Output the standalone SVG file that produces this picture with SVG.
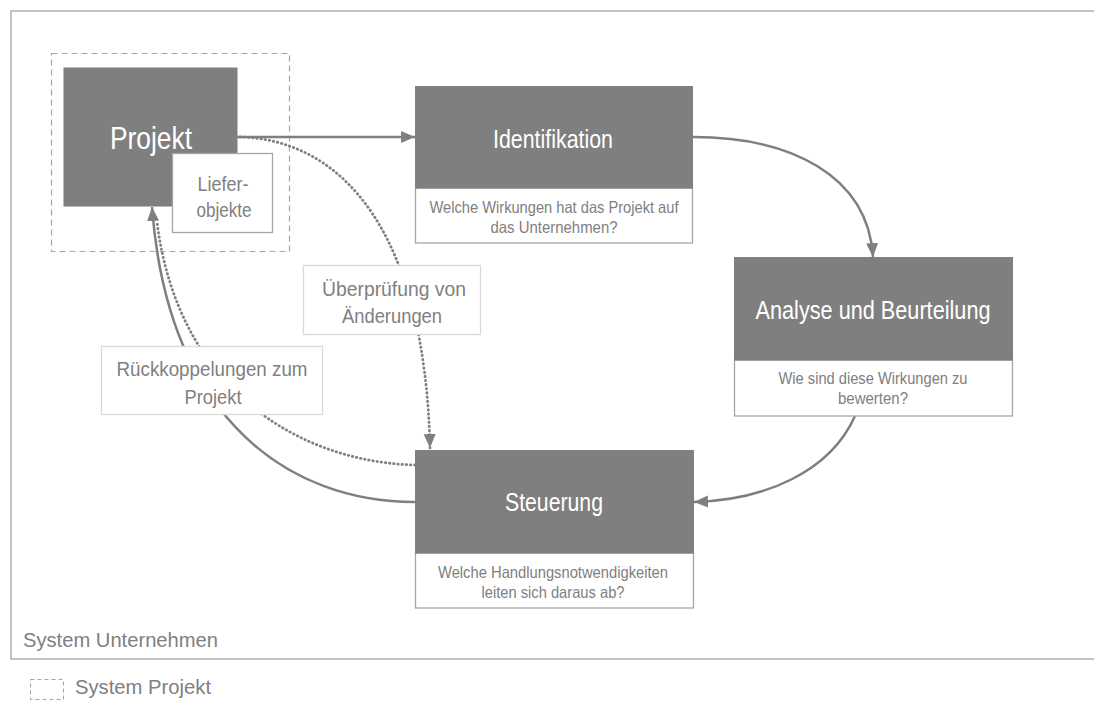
<svg xmlns="http://www.w3.org/2000/svg" width="1094" height="705" viewBox="0 0 1094 705">
<style>
.dark{fill:#7f7f7f;stroke:#7f7f7f;stroke-width:1}
.wbox{fill:#ffffff;stroke:#a6a6a6;stroke-width:1.3}
.lbox{fill:#ffffff;stroke:#d9d9d9;stroke-width:1.3}
.t{font-family:"Liberation Sans",Arial,sans-serif;text-anchor:middle}
.tw{fill:#ffffff}
.tg{fill:#808080}
.c{fill:none;stroke:#7f7f7f;stroke-width:2.5}
.dot{fill:none;stroke:#7f7f7f;stroke-width:2.8;stroke-linecap:round;stroke-dasharray:0.4 3.8}
</style>
<defs>
<marker id="ah" markerUnits="userSpaceOnUse" markerWidth="16" markerHeight="14" refX="14" refY="6" orient="auto">
<path d="M0,0 L14,6 L0,12 Z" fill="#7f7f7f"/>
</marker>
</defs>
<rect x="11" y="11" width="1100" height="648" fill="none" stroke="#a6a6a6" stroke-width="1.3"/>
<text class="t tg" x="23" y="647" font-size="20" style="text-anchor:start" textLength="195" lengthAdjust="spacingAndGlyphs">System Unternehmen</text>
<g id="legend">
<rect x="30.5" y="679.5" width="33" height="20" fill="none" stroke="#a6a6a6" stroke-width="1" stroke-dasharray="4 3"/>
<text class="t tg" x="75" y="694" font-size="20" style="text-anchor:start" textLength="136" lengthAdjust="spacingAndGlyphs">System Projekt</text>
</g>
<g id="system-projekt">
<rect x="51.5" y="53.5" width="238" height="198" fill="none" stroke="#a6a6a6" stroke-width="1.2" stroke-dasharray="6 4"/>
</g>
<g id="connectors">
<path class="c" d="M237,137 L415,137" marker-end="url(#ah)"/>
<path class="c" d="M693,137 C790,137 868,175 873,257" marker-end="url(#ah)"/>
<path class="c" d="M855,416 C830,472 765,500 694,502" marker-end="url(#ah)"/>
<path class="c" d="M415,502 C290,502 168,420 152,207" marker-end="url(#ah)"/>
<path class="dot" d="M415,465 C300,462 178,390 157,222"/>
<path class="dot" d="M240,137 C345,140 425,235 430,448" marker-end="url(#ah)"/>
</g>
<g id="projekt">
<rect class="dark" x="64" y="68" width="173" height="138"/>
<text class="t tw" x="151" y="149" font-size="32" textLength="82" lengthAdjust="spacingAndGlyphs">Projekt</text>
</g>
<g id="lieferobjekte">
<rect class="wbox" x="172.5" y="153.5" width="100" height="79"/>
<text class="t tg" x="223" y="191" font-size="21" textLength="51" lengthAdjust="spacingAndGlyphs">Liefer-</text>
<text class="t tg" x="224" y="217" font-size="21" textLength="55" lengthAdjust="spacingAndGlyphs">objekte</text>
</g>
<g id="identifikation">
<rect class="wbox" x="415.5" y="188" width="277" height="55"/>
<rect class="dark" x="415.5" y="86.5" width="277" height="101.5"/>
<text class="t tw" x="553" y="148" font-size="25" textLength="120" lengthAdjust="spacingAndGlyphs">Identifikation</text>
<text class="t tg" x="554" y="213" font-size="16.5" textLength="249" lengthAdjust="spacingAndGlyphs">Welche Wirkungen hat das Projekt auf</text>
<text class="t tg" x="554" y="233" font-size="16.5" textLength="127" lengthAdjust="spacingAndGlyphs">das Unternehmen?</text>
</g>
<g id="analyse">
<rect class="wbox" x="734.5" y="360" width="278" height="56"/>
<rect class="dark" x="734.5" y="257.5" width="278" height="102.5"/>
<text class="t tw" x="873" y="319" font-size="25" textLength="235" lengthAdjust="spacingAndGlyphs">Analyse und Beurteilung</text>
<text class="t tg" x="873" y="384" font-size="16.5" textLength="189" lengthAdjust="spacingAndGlyphs">Wie sind diese Wirkungen zu</text>
<text class="t tg" x="873" y="404" font-size="16.5" textLength="70" lengthAdjust="spacingAndGlyphs">bewerten?</text>
</g>
<g id="steuerung">
<rect class="wbox" x="415.5" y="553" width="278" height="55"/>
<rect class="dark" x="415.5" y="450.5" width="278" height="102.5"/>
<text class="t tw" x="554" y="511" font-size="25" textLength="98" lengthAdjust="spacingAndGlyphs">Steuerung</text>
<text class="t tg" x="553" y="578" font-size="16.5" textLength="230" lengthAdjust="spacingAndGlyphs">Welche Handlungsnotwendigkeiten</text>
<text class="t tg" x="553" y="598" font-size="16.5" textLength="143" lengthAdjust="spacingAndGlyphs">leiten sich daraus ab?</text>
</g>
<g id="label-ueberpruefung">
<rect class="lbox" x="303.5" y="265.5" width="177" height="69"/>
<text class="t tg" x="394" y="296" font-size="21" textLength="144" lengthAdjust="spacingAndGlyphs">Überprüfung  von</text>
<text class="t tg" x="392" y="323" font-size="21" textLength="100" lengthAdjust="spacingAndGlyphs">Änderungen</text>
</g>
<g id="label-rueckkopplung">
<rect class="lbox" x="101.5" y="346.5" width="221" height="68"/>
<text class="t tg" x="212" y="376" font-size="21" textLength="191" lengthAdjust="spacingAndGlyphs">Rückkoppelungen  zum</text>
<text class="t tg" x="213" y="404" font-size="21" textLength="57" lengthAdjust="spacingAndGlyphs">Projekt</text>
</g>
</svg>
